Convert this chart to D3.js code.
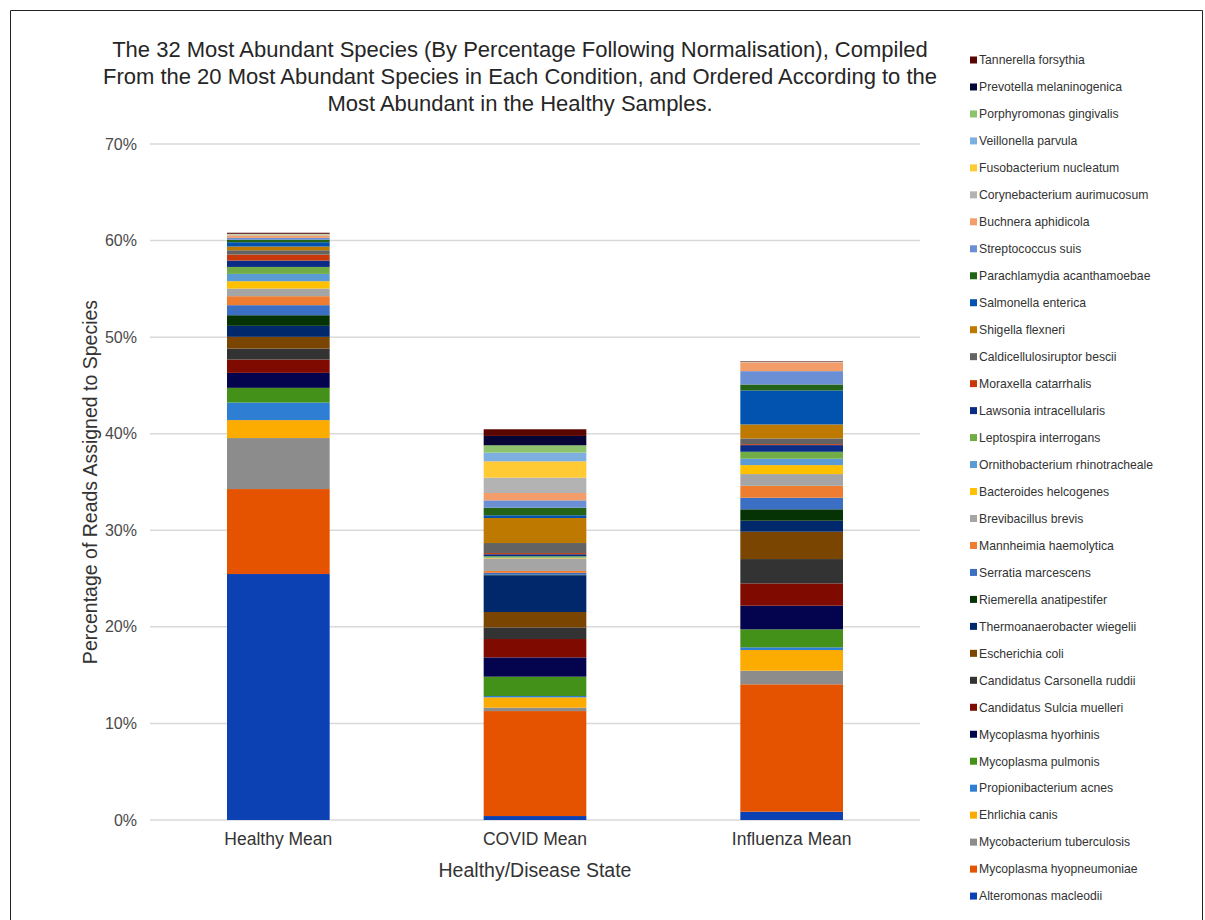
<!DOCTYPE html>
<html>
<head>
<meta charset="utf-8">
<script src="https://cdn.jsdelivr.net/npm/d3@7"></script>
<style>
  body { margin: 0; background: #fff; }
  svg { font-family: "Liberation Sans", Arial, sans-serif; }
</style>
</head>
<body>
<script>
// species, bottom of the stack first
var species = [
  'Alteromonas macleodii', 'Mycoplasma hyopneumoniae', 'Mycobacterium tuberculosis',
  'Ehrlichia canis', 'Propionibacterium acnes', 'Mycoplasma pulmonis',
  'Mycoplasma hyorhinis', 'Candidatus Sulcia muelleri', 'Candidatus Carsonella ruddii',
  'Escherichia coli', 'Thermoanaerobacter wiegelii', 'Riemerella anatipestifer',
  'Serratia marcescens', 'Mannheimia haemolytica', 'Brevibacillus brevis',
  'Bacteroides helcogenes', 'Ornithobacterium rhinotracheale', 'Leptospira interrogans',
  'Lawsonia intracellularis', 'Moraxella catarrhalis', 'Caldicellulosiruptor bescii',
  'Shigella flexneri', 'Salmonella enterica', 'Parachlamydia acanthamoebae',
  'Streptococcus suis', 'Buchnera aphidicola', 'Corynebacterium aurimucosum',
  'Fusobacterium nucleatum', 'Veillonella parvula', 'Porphyromonas gingivalis',
  'Prevotella melaninogenica', 'Tannerella forsythia'
];

var colors = [
  '#0B41B3', '#E55300', '#8C8C8C', '#FCAB00', '#2E7ED4', '#44911A',
  '#03044D', '#7F0B00', '#333333', '#7A4500', '#02286C', '#053305',
  '#3B6FC4', '#EE7D31', '#A5A5A5', '#FFC000', '#5B9BD5', '#70AD47',
  '#0B2C85', '#C8380A', '#636363', '#BE7A00', '#0253B0', '#236318',
  '#6B8FD4', '#F29D6A', '#B3B3B3', '#FFCA33', '#7DAFE0', '#8DC36B',
  '#060636', '#5A0600'
];

var conditions = ['Healthy Mean', 'COVID Mean', 'Influenza Mean'];

// percentages, same order as species
var healthy = [
  25.47, 8.8, 5.28, 1.86, 1.82, 1.52, 1.55, 1.38, 1.14, 1.21, 1.14, 1.1,
  1.04, 0.93, 0.79, 0.76, 0.76, 0.72, 0.66, 0.62, 0.45, 0.38, 0.45, 0.25,
  0.2, 0.25, 0.05, 0.04, 0.03, 0.03, 0.03, 0.1
];
var covid = [
  0.41, 10.87, 0.35, 1.07, 0.14, 2.0, 2.0, 1.9, 1.2, 1.6, 3.8, 0.05,
  0.2, 0.2, 1.28, 0.05, 0.05, 0.15, 0.2, 0.12, 1.04, 2.59, 0.28, 0.79,
  0.76, 0.76, 1.59, 1.69, 0.9, 0.76, 0.97, 0.69
];
var influenza = [
  0.86, 13.19, 1.41, 2.14, 0.28, 1.86, 2.45, 2.31, 2.52, 2.83, 1.14, 1.18,
  1.2, 1.24, 1.21, 0.93, 0.66, 0.72, 0.69, 0.1, 0.59, 1.45, 3.52, 0.62,
  1.38, 0.9, 0.03, 0.01, 0.01, 0.01, 0.01, 0.05
];

var yTicks = [0, 10, 20, 30, 40, 50, 60, 70];

var titleLines = [
  'The 32 Most Abundant Species (By Percentage Following Normalisation), Compiled',
  'From the 20 Most Abundant Species in Each Condition, and Ordered According to the',
  'Most Abundant in the Healthy Samples.'
];

var width = 1205;
var height = 920;
var plot = {left: 150, right: 920, top: 144, bottom: 820};
var textColor = '#333';

var svg = d3.select('body').append('svg')
  .attr('width', width)
  .attr('height', height);

// frame of the original screenshot
svg.append('path')
  .attr('d', 'M10.5,920 V10.5 H1202.5 V920')
  .attr('fill', 'none')
  .attr('stroke', '#222')
  .attr('stroke-width', 1);

var rows = conditions.map(function(c, i) {
  var row = {condition: c};
  var vals = [healthy, covid, influenza][i];
  species.forEach(function(s, j) { row[s] = vals[j]; });
  return row;
});

var x = d3.scaleBand()
  .domain(conditions)
  .range([plot.left, plot.right])
  .paddingInner(0.6)
  .paddingOuter(0.3);

var y = d3.scaleLinear()
  .domain([0, 70])
  .range([plot.bottom, plot.top]);

var color = d3.scaleOrdinal().domain(species).range(colors);

// gridlines
svg.append('g')
  .selectAll('line')
  .data(yTicks)
  .enter().append('line')
    .attr('x1', plot.left)
    .attr('x2', plot.right)
    .attr('y1', function(d) { return y(d); })
    .attr('y2', function(d) { return y(d); })
    .attr('stroke', '#d9d9d9')
    .attr('stroke-width', 1.5);

svg.append('g')
  .selectAll('text')
  .data(yTicks)
  .enter().append('text')
    .attr('x', 137)
    .attr('y', function(d) { return y(d); })
    .attr('dy', '0.35em')
    .attr('text-anchor', 'end')
    .attr('fill', '#4a4a4a')
    .attr('font-size', 16)
    .text(function(d) { return d + '%'; });

var stack = d3.stack().keys(species);
var series = stack(rows);

svg.append('g')
  .selectAll('g')
  .data(series)
  .enter().append('g')
    .attr('fill', function(d) { return color(d.key); })
  .selectAll('rect')
  .data(function(d) { return d; })
  .enter().append('rect')
    .attr('x', function(d) { return x(d.data.condition); })
    .attr('width', x.bandwidth())
    .attr('y', function(d) { return y(d[1]); })
    .attr('height', function(d) { return Math.max(0, y(d[0]) - y(d[1])); });

// x labels
svg.append('g')
  .selectAll('text')
  .data(conditions)
  .enter().append('text')
    .attr('x', function(d) { return x(d) + x.bandwidth() / 2; })
    .attr('y', 845)
    .attr('text-anchor', 'middle')
    .attr('fill', textColor)
    .attr('font-size', 17.5)
    .text(function(d) { return d; });

svg.append('text')
  .attr('x', 535)
  .attr('y', 877)
  .attr('text-anchor', 'middle')
  .attr('fill', textColor)
  .attr('font-size', 19.5)
  .text('Healthy/Disease State');

svg.append('text')
  .attr('transform', 'translate(97,482) rotate(-90)')
  .attr('text-anchor', 'middle')
  .attr('fill', textColor)
  .attr('font-size', 19.5)
  .text('Percentage of Reads Assigned to Species');

svg.append('g')
  .selectAll('text')
  .data(titleLines)
  .enter().append('text')
    .attr('x', 520)
    .attr('y', function(d, i) { return 57 + i * 27; })
    .attr('text-anchor', 'middle')
    .attr('fill', '#262626')
    .attr('font-size', 22)
    .text(function(d) { return d; });

// legend, top entry is the top of the stack
var legendItems = species.slice().reverse();
var legend = svg.append('g')
  .selectAll('g')
  .data(legendItems)
  .enter().append('g')
    .attr('transform', function(d, i) { return 'translate(970,' + (60 + i * 26.97) + ')'; });

legend.append('rect')
  .attr('x', 0)
  .attr('y', -3.5)
  .attr('width', 7)
  .attr('height', 7)
  .attr('fill', function(d) { return color(d); });

legend.append('text')
  .attr('x', 9)
  .attr('dy', '0.35em')
  .attr('fill', textColor)
  .attr('font-size', 12.2)
  .text(function(d) { return d; });
</script>
</body>
</html>
